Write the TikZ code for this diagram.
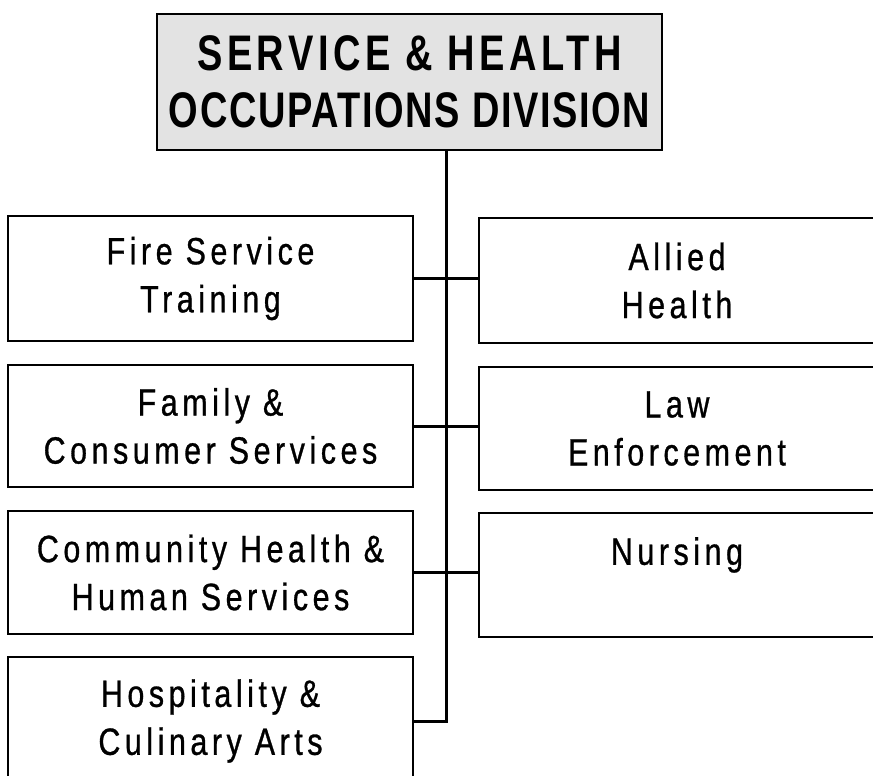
\documentclass[tikz,border=0pt]{standalone}
\usepackage{fontspec}
\setmainfont{Liberation Sans}
\newfontfamily\boxfont[FakeStretch=0.8,LetterSpace=12,FakeBold=0.8]{Liberation Sans}
\newfontfamily\headfont[FakeStretch=0.76,LetterSpace=3.2]{Liberation Sans}
\begin{document}
\begin{tikzpicture}[x=1pt,y=-1pt,
  unitbox/.style={draw=black,line width=2.2pt,rectangle,align=center,inner sep=0pt,
    font=\boxfont\fontsize{38}{48}\selectfont},
  headbox/.style={draw=black,line width=2.2pt,rectangle,fill=black!11,align=center,inner sep=0pt,
    font=\headfont\bfseries\fontsize{50}{57}\selectfont},
  conn/.style={line width=3pt,line cap=rect}]
\useasboundingbox (0,0) rectangle (873,776);
\clip (0,0) rectangle (873,776);

% division heading
\node[headbox,minimum width=505pt,minimum height=136pt] (top) at (409.5,82)
  {{\addfontfeature{LetterSpace=9}SERVICE \& HEALTH}\\OCCUPATIONS DIVISION};

% left column
\node[unitbox,minimum width=405pt,minimum height=125pt] (fire) at (210.5,278.5)
  {Fire Service\\Training};
\node[unitbox,minimum width=405pt,minimum height=122pt] (family) at (210.5,426)
  {Family \&\\Consumer Services};
\node[unitbox,minimum width=405pt,minimum height=123pt] (community) at (210.5,572.5)
  {Community Health \&\\Human Services};
\node[unitbox,minimum width=405pt,minimum height=128pt] (hosp) at (210.5,721)
  {Hospitality \&\\Culinary Arts};

% right column
\node[unitbox,minimum width=396pt,minimum height=125pt] (allied) at (677,280.5)
  {Allied\\Health};
\node[unitbox,minimum width=396pt,minimum height=123pt] (law) at (677,428.5)
  {Law\\Enforcement};
\node[unitbox,minimum width=396pt,minimum height=124pt] (nursing) at (677,575)
  {Nursing\\\mbox{}};

% trunk and branches
\coordinate (tk) at (446,0);
\draw[conn] (top.south -| tk) -- (hosp.east -| tk) -- (hosp.east);
\draw[conn] (fire.east) -- (fire.east -| allied.west);
\draw[conn] (family.east) -- (family.east -| law.west);
\draw[conn] (community.east) -- (community.east -| nursing.west);
\end{tikzpicture}
\end{document}
